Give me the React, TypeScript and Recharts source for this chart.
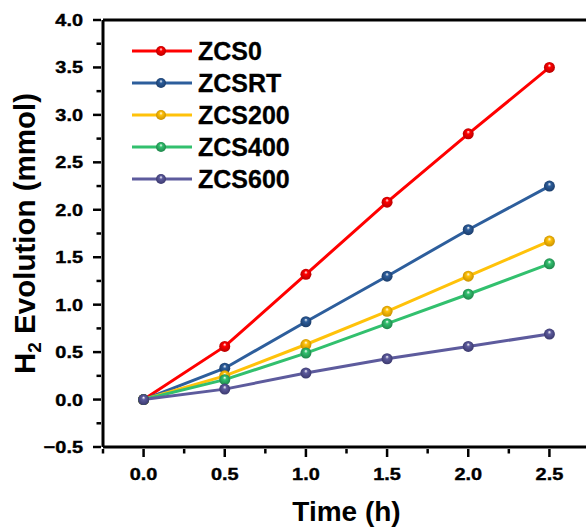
// H2 evolution vs time for the ZCS samples
import { LineChart, Line, XAxis, YAxis, ReferenceLine, Legend } from "recharts";

const times = [0, 0.5, 1.0, 1.5, 2.0, 2.5];
const zcs0 = [0, 0.56, 1.32, 2.08, 2.8, 3.5];
const zcsRT = [0, 0.33, 0.82, 1.3, 1.79, 2.25];
const zcs200 = [0, 0.25, 0.58, 0.93, 1.3, 1.67];
const zcs400 = [0, 0.21, 0.49, 0.8, 1.11, 1.43];
const zcs600 = [0, 0.11, 0.28, 0.43, 0.56, 0.69];

const xTicks = [-0.25, 0, 0.25, 0.5, 0.75, 1.0, 1.25, 1.5, 1.75, 2.0, 2.25, 2.5, 2.75];
const yTicks = [-0.5, -0.25, 0, 0.25, 0.5, 0.75, 1.0, 1.25, 1.5, 1.75, 2.0, 2.25, 2.5, 2.75, 3.0, 3.25, 3.5, 3.75, 4.0];

const series = [
  { key: "ZCS0", values: zcs0, color: "#ff0000", dark: "#b00000" },
  { key: "ZCSRT", values: zcsRT, color: "#2d5e9c", dark: "#1a3a66" },
  { key: "ZCS200", values: zcs200, color: "#ffc20a", dark: "#c48c00" },
  { key: "ZCS400", values: zcs400, color: "#32c06e", dark: "#1e8048" },
  { key: "ZCS600", values: zcs600, color: "#5d5b9d", dark: "#38366a" },
];

const data = times.map((t, i) => {
  const row: Record<string, number> = { t };
  series.forEach((s) => (row[s.key] = s.values[i]));
  return row;
});

const FONT = "'Liberation Sans', Arial, sans-serif";

const isMajor = (v: number) => Math.abs(v * 2 - Math.round(v * 2)) < 1e-6;

// tick labels in the original are a little wider and heavier than plain Arial bold
function TickText({ x, y, anchor, children }: any) {
  return (
    <g transform={`translate(${x},${y}) scale(1.17,1)`}>
      <text
        x={0}
        y={0}
        textAnchor={anchor}
        fontFamily={FONT}
        fontWeight="bold"
        fontSize={17}
        fill="#000"
        stroke="#000"
        strokeWidth={0.4}
      >
        {children}
      </text>
    </g>
  );
}

function YTick(props: any) {
  const { x, y, payload } = props;
  const major = isMajor(payload.value);
  const label = payload.value < 0 ? "\u2212" + Math.abs(payload.value).toFixed(1) : payload.value.toFixed(1);
  return (
    <g>
      <line x1={x} x2={x - (major ? 8 : 4.5)} y1={y} y2={y} stroke="#000" strokeWidth={2.5} />
      {major && (
        <TickText x={x - 18} y={y + 6} anchor="end">
          {label}
        </TickText>
      )}
    </g>
  );
}

function XTick(props: any) {
  const { x, y, payload } = props;
  const major = isMajor(payload.value);
  return (
    <g>
      <line x1={x} x2={x} y1={y} y2={y + (major ? 8 : 4.5)} stroke="#000" strokeWidth={2.5} />
      {major && (
        <TickText x={x} y={y + 31} anchor="middle">
          {payload.value.toFixed(1)}
        </TickText>
      )}
    </g>
  );
}

function Ball(props: any, id: string) {
  const { cx, cy, index } = props;
  return <circle key={`${id}-${index}`} cx={cx} cy={cy} r={5.5} fill={`url(#ball-${id})`} />;
}

function LegendBox() {
  return (
    <svg width={240} height={170}>
      {series.map((s, i) => {
        const cy = 21 + i * 32;
        return (
          <g key={s.key}>
            <line x1={12} x2={72} y1={cy} y2={cy} stroke={s.color} strokeWidth={3} />
            <circle cx={41} cy={cy} r={5} fill={`url(#ball-${s.key})`} />
            <text x={78} y={cy + 9} fontFamily={FONT} fontWeight="bold" fontSize={25} fill="#000" stroke="#000" strokeWidth={0.3}>
              {s.key}
            </text>
          </g>
        );
      })}
    </svg>
  );
}

function YTitle(props: any) {
  const vb = props.viewBox;
  const cx = 35;
  const cy = vb.y + vb.height / 2;
  return (
    <text
      x={cx}
      y={cy}
      transform={`rotate(-90, ${cx}, ${cy})`}
      textAnchor="middle"
      fontFamily={FONT}
      fontWeight="bold"
      fontSize={29.5}
      fill="#000"
    >
      H<tspan dy={6} fontSize={19}>2</tspan>
      <tspan dy={-6}> Evolution (mmol)</tspan>
    </text>
  );
}

function XTitle(props: any) {
  const vb = props.viewBox;
  return (
    <text
      x={vb.x + vb.width / 2}
      y={521}
      textAnchor="middle"
      fontFamily={FONT}
      fontWeight="bold"
      fontSize={28}
      fill="#000"
    >
      Time (h)
    </text>
  );
}

export default function App() {
  return (
    <div style={{ position: "absolute", left: 0, top: 0, width: 586, height: 528, overflow: "hidden", background: "#fff" }}>
      <LineChart width={600} height={528} data={data} margin={{ top: 20, right: 10, bottom: 0, left: 0 }}>
        <defs>
          {series.map((s) => (
            <radialGradient key={s.key} id={`ball-${s.key}`} cx="50%" cy="50%" r="55%" fx="50%" fy="30%">
              <stop offset="0%" stopColor="#ffffff" />
              <stop offset="30%" stopColor={s.color} />
              <stop offset="100%" stopColor={s.dark} />
            </radialGradient>
          ))}
        </defs>
        <XAxis
          type="number"
          dataKey="t"
          domain={[-0.25, 2.75]}
          ticks={xTicks}
          interval={0}
          allowDataOverflow
          height={81}
          tickSize={0}
          tickLine={false}
          axisLine={{ stroke: "#000", strokeWidth: 3 }}
          tick={<XTick />}
          label={<XTitle />}
        />
        <YAxis
          type="number"
          domain={[-0.5, 4]}
          ticks={yTicks}
          interval={0}
          allowDataOverflow
          width={103}
          tickSize={0}
          tickLine={false}
          axisLine={{ stroke: "#000", strokeWidth: 3 }}
          tick={<YTick />}
          label={<YTitle />}
        />
        <ReferenceLine y={4} stroke="#000" strokeWidth={3} />
        <ReferenceLine x={2.75} stroke="#000" strokeWidth={3} />
        <Legend
          layout="horizontal"
          verticalAlign="middle"
          align="center"
          wrapperStyle={{ left: 120, top: 30, width: 240, height: 170 }}
          content={() => <LegendBox />}
        />
        {series.map((s) => (
          <Line
            key={s.key}
            type="linear"
            dataKey={s.key}
            stroke={s.color}
            strokeWidth={3}
            dot={(p: any) => Ball(p, s.key)}
            activeDot={false}
            isAnimationActive={false}
          />
        ))}
      </LineChart>
    </div>
  );
}
